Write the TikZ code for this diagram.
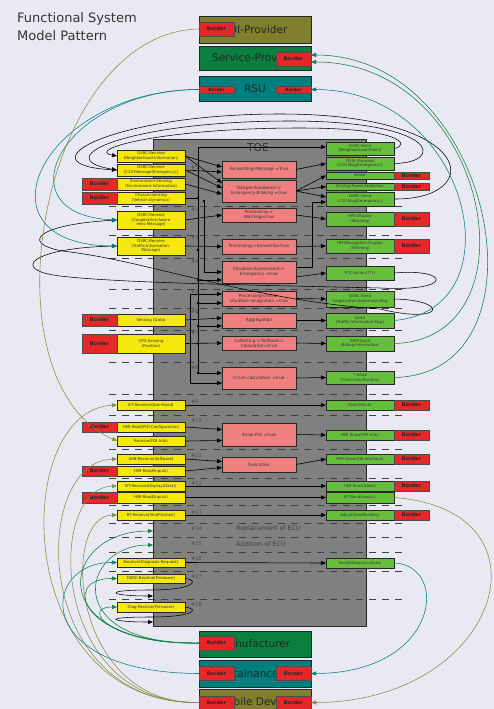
\documentclass[tikz,border=0pt]{standalone}
\usepackage{fontspec}
\setmainfont{DejaVu Sans}
\usetikzlibrary{arrows.meta}
\definecolor{bgc}{HTML}{E9E9F3}
\definecolor{yel}{HTML}{F4E80C}
\definecolor{pnk}{HTML}{F08080}
\definecolor{grn}{HTML}{66BF3C}
\definecolor{redb}{HTML}{E42728}
\definecolor{olv}{HTML}{7F7F2E}
\definecolor{olvl}{HTML}{8A8A40}
\definecolor{dgrn}{HTML}{0B7F3D}
\definecolor{tea}{HTML}{007F7F}
\definecolor{toe}{HTML}{808080}
\newcommand{\mkY}[4]{\node[ybox,minimum height=#3] (#1) at (151,#2) {#4};}
\newcommand{\mkP}[4]{\node[pbox,minimum height=#3] (#1) at (259,#2) {#4};}
\newcommand{\mkG}[4]{\node[gbox,minimum height=#3] (#1) at (360,#2) {#4};}
\newcommand{\mkBL}[3]{\node[bord,minimum height=#3] (#1) at (99.5,#2) {Border};}
\newcommand{\mkBR}[3]{\node[bord,minimum height=#3] (#1) at (411.5,#2) {Border};}
\newcommand{\mkN}[2]{\node[numlab] at (191,#1) {\##2};}
\begin{document}
\begin{tikzpicture}[x=1pt,y=-1pt,
  bx/.style={draw=black!85, line width=0.6pt, inner sep=0pt, outer sep=0pt, align=center, font=\fontsize{3.9}{4.6}\selectfont, text=black!80},
  ybox/.style={bx, fill=yel, minimum width=68},
  pbox/.style={bx, fill=pnk, minimum width=74, font=\fontsize{4.3}{5.2}\selectfont},
  gbox/.style={bx, fill=grn, minimum width=68},
  bord/.style={draw=black!70, fill=redb, line width=0.5pt, inner sep=0pt, outer sep=0pt, minimum width=35, font=\bfseries\fontsize{5}{6}\selectfont, text=black!85},
  sbord/.style={bord, font=\bfseries\fontsize{4.3}{5}\selectfont},
  bigbox/.style={draw=black!85, line width=0.8pt, minimum width=112, inner sep=0pt, outer sep=0pt, font=\fontsize{10.5}{12}\selectfont, text=black!85},
  arr/.style={-{Triangle[length=5pt,width=4pt]}, line width=0.6pt},
  crv/.style={-{Triangle[length=5pt,width=4pt]}, line width=0.55pt},
  dsh/.style={dash pattern=on 7pt off 6pt, line width=0.9pt, black!75},
  numlab/.style={anchor=west, font=\fontsize{5}{6}\selectfont, text=black!70, inner sep=0pt},
  dot/.style={fill=black}
]
\fill[bgc] (0,0) rectangle (494,709);
\useasboundingbox (0,0) rectangle (494,709);

% title
\node[anchor=north west, align=left, inner sep=0pt, font=\fontsize{13}{18}\selectfont, text=black!80] (title) at (17,12) {Functional System\\Model Pattern};

% TOE
\fill[toe] (153,139) rectangle (366,626);
\draw[black!85, line width=0.8pt] (153,139) rectangle (366,626);
\node[font=\fontsize{10.8}{12}\selectfont, text=black!80] (toelab) at (258,148) {TOE};

% dashed separators
\foreach \yy in {206,235,258,289,308,330,362,394,415,449,478,505,523,537,552,571,599}
  \draw[dsh] (109,\yy) -- (406,\yy);

% numbers
\mkN{168}{1} \mkN{210}{2} \mkN{238}{3} \mkN{262}{4} \mkN{292}{5} \mkN{312}{6}
\mkN{333}{7} \mkN{368}{8} \mkN{402}{9} \mkN{421}{10} \mkN{456}{11} \mkN{484}{12}
\mkN{513}{13} \mkN{529}{14} \mkN{544}{15} \mkN{559}{16} \mkN{577}{17} \mkN{605}{18}
\node[anchor=west, inner sep=0pt, font=\fontsize{6.3}{7}\selectfont, text=black!75] (repl) at (236,529) {Replacement of ECU};
\node[anchor=west, inner sep=0pt, font=\fontsize{6.3}{7}\selectfont, text=black!75] (addi) at (236,544) {Addition of ECU};

% top external boxes
\node[bigbox, fill=olv, minimum height=27] (poi) at (255,29.5) {POI-Provider};
\node[bord, minimum height=14] (poiB) at (216.5,29) {Border};
\node[bigbox, fill=dgrn, minimum height=24] (sp) at (255,58) {Service-Provider};
\node[bord, minimum height=14] (spB) at (293.5,59) {Border};
\node[bigbox, fill=tea, minimum height=25] (rsu) at (255,88.5) {RSU};
\node[sbord, minimum height=7] (rsuL) at (216.5,89.5) {Border};
\node[sbord, minimum height=7] (rsuR) at (293.5,89.5) {Border};

% bottom external boxes
\node[bigbox, fill=dgrn, minimum height=26] (mf) at (255,644) {Manufacturer};
\node[bord, minimum height=14] (mfB) at (216.5,643) {Border};
\node[bigbox, fill=tea, minimum height=27] (mt) at (255,673.5) {Maintainance-Tool};
\node[bord, minimum height=14] (mtL) at (216.5,673.5) {Border};
\node[bord, minimum height=14] (mtR) at (293.5,673.5) {Border};
\node[bigbox, fill=olv, minimum height=26] (mb) at (255,702) {Mobile Device};
\node[bord, minimum height=13] (mbL) at (216.5,702.5) {Border};
\node[bord, minimum height=13] (mbR) at (293.5,702.5) {Border};

% yellow inputs
\mkY{y1}{156}{12}{DSRC-Receive\\(Neighborhood-Information)}
\mkY{y2}{170}{12}{DSRC-Receive\\(C2X-Message(Emergency))}
\mkY{y3}{184}{12}{Environment-Sensing\\(Environment-Information)}
\mkY{y4}{198}{12}{Chassis-Sensing\\(Vehicle-Dynamics)}
\mkY{y5}{220}{18}{DSRC-Receive\\(Cooperative-Aware\\ness-Message)}
\mkY{y6}{246}{18}{DSRC-Receive\\(Traffic-Information-\\Message)}
\mkY{y7}{320}{12}{Sensing (Data)}
\mkY{y8}{343.5}{19}{GPS-Sensing\\(Position)}
\mkY{y9}{405}{10}{BT-Receive(OpenHood)}
\mkY{y10}{427}{10}{HMI-Read(POI-Configuration)}
\mkY{y11}{441}{10}{Receive(POI-Info)}
\mkY{y12}{459}{10}{USB-Receive(Software)}
\mkY{y13}{471}{10}{HIM-Read(Inputs)}
\mkY{y14}{486}{10}{BT-Receive(Display(Data))}
\mkY{y15}{497.5}{11}{HIM-Read(Inputs)}
\mkY{y16}{515}{10}{BT-Receive(SeatPosition)}
\mkY{y17}{562.5}{9}{Receive(Diagnosis-Request)}
\mkY{y18}{578.5}{9}{DSRC-Receive(Firmware)}
\mkY{y19}{607}{10}{Diag-Receive(Firmware)}
\mkBL{b3}{184}{12} \mkBL{b4}{198}{12} \mkBL{b7}{320}{12} \mkBL{b8}{343.5}{19}
\mkBL{b10}{427}{10} \mkBL{b13}{471}{10} \mkBL{b15}{497.5}{11}

% pink functions
\mkP{p1}{169.5}{17}{Forwarding-Message =True}
\mkP{p2}{191}{22}{Danger-Avoidance->\\Emergency-Braking =true}
\mkP{p3}{215}{14}{Processing->\\Warning=true}
\mkP{p4}{246.5}{15}{Processing->ShowInfo=true}
\mkP{p5}{272}{22}{Situation-Assessment->\\Emergency =true}
\mkP{p6}{298.5}{15}{Processing-critical-\\situation-recognition =true}
\mkP{p7}{320.5}{15}{Aggregation}
\mkP{p8}{343}{14}{Collecting->TollRoad->\\Calculation=true}
\mkP{p9}{378}{22}{Crash-calculation =true}
\mkP{ps}{434.5}{23}{Show-POI =true}
\mkP{pe}{464.5}{15}{Execution}

% green outputs
\mkG{g1}{148.5}{13}{DSRC-Send\\(Neighborhood-Token)}
\mkG{g2}{163.5}{13}{DSRC-Forward\\(C2X-Msg(Emergency))}
\mkG{g3}{175.5}{7}{Brake}
\mkG{g4}{186.5}{7}{Driving-Power-Reduction}
\mkG{g5}{199}{14}{DSRC-Send\\(C2X-Msg(Emergency))}
\mkG{g6}{219}{14}{HMI-Display\\(Warning)}
\mkG{g7}{246}{14}{HMI/Navigation-Display\\(Warning)}
\mkG{g8}{273}{14}{PTC-Action(???)}
\mkG{g9}{299}{16}{DSRC-Send\\Cooperative-Awareness-Msg}
\mkG{g10}{320.5}{15}{Send\\(Traffic-Information-Msg)}
\mkG{g11}{343.5}{15}{GSM-Send\\(Billing-Information)}
\mkG{g12}{377.5}{13}{?-Send\\(Crash-Info,Position)}
\mkG{g13}{405}{10}{Open(Hood)}
\mkG{g14}{435}{10}{HMI-Show(POI-Info)}
\mkG{g15}{459}{10}{HIM-Show(SW-Interface)}
\mkG{g16}{486}{10}{HIM-Show(Data)}
\mkG{g17}{497.5}{11}{BT-Send(Inputs)}
\mkG{g18}{515}{10}{Adjust(SeatPosition)}
\mkG{g19}{563}{10}{Send(Diagnosis-Data)}
\mkBR{r3}{175.5}{7} \mkBR{r4}{186.5}{7} \mkBR{r6}{219}{14} \mkBR{r7}{246}{14}
\mkBR{r13}{405}{10} \mkBR{r14}{435}{10} \mkBR{r15}{459}{10} \mkBR{r16}{486}{10} \mkBR{r18}{515}{10}

% bus coordinates
\coordinate (bt) at (198,147);
\coordinate (bb) at (198,373);
\coordinate (ct) at (204,201);
\coordinate (cb) at (204,272);
\coordinate (dt) at (190,294);
\coordinate (db) at (190,383);
\coordinate (t14) at (153,531);
\coordinate (t15) at (153,545);
\coordinate (t17) at (153,596);
\coordinate (t18) at (153,622);

% internal connectors
\draw[line width=0.6pt] (bt) -- (bb);
\draw[line width=0.6pt] (ct) -- (cb);
\draw[line width=0.6pt] (dt) -- (db);
\draw[arr] (bt) -- (bt -| g1.west);
\draw[arr] (bb) -- (bb -| p9.west);
\draw[arr] (cb) -- (cb -| p5.west);
\draw[arr] (dt) -- (dt -| p6.west);
\draw[arr] (db) -- (db -| p9.west);
\draw[line width=0.6pt] (y4.east) -- (y4.east -| bt);
\fill[dot] (y4.east -| bt) circle (1.3);
\fill[dot] (ct) circle (1.3);
\fill[dot] (198,250) circle (1.3);
\draw[arr] (198,280) -- ([yshift=-8]p5.west);
\fill[dot] (198,280) circle (1.3);
\draw[arr] (198,303) -- ([yshift=-4.5]p6.west);
\fill[dot] (198,303) circle (1.3);
\draw[arr] (198,326) -- ([yshift=-5.5]p7.west);
\fill[dot] (198,326) circle (1.3);
\fill[dot] (198,343.5) circle (1.3);
\fill[dot] (198,373) circle (1.3);

\draw[arr] (y1.east) -- ([yshift=2.5]p1.west);
\draw[arr] (y1.east) -- ([yshift=8]p2.west);
\draw[arr] (y2.east) -- ([yshift=-2.5]p1.west);
\draw[arr] (y2.east) -- ([yshift=3]p2.west);
\draw[arr] (y3.east) -- ([yshift=-3]p2.west);
\draw[arr] (y5.east) -- (p3.west);
\draw[arr] (y6.east) -- (p4.west);
\draw[arr] (y7.east) -- ([yshift=2.5]p7.west);
\draw[arr] (y8.east) -- (p8.west);
\draw[arr] (p1.east) -- (g2.west);
\draw[arr] (p2.east) -- (g3.west);
\draw[arr] (p2.east) -- (g4.west);
\draw[arr] (p2.east) -- ([yshift=2]g5.west);
\draw[arr] (p3.east) -- (g6.west);
\draw[arr] (p4.east) -- (g7.west);
\draw[arr] ([yshift=5]p5.east) -| ([xshift=-14,yshift=-3]g5.west) -- ([yshift=-3]g5.west);
\draw[arr] ([yshift=-5]p5.east) -- (g8.west);
\draw[arr] (p6.east) -- (g9.west);
\draw[arr] (p7.east) -- (g10.west);
\draw[arr] (p8.east) -- (g11.west);
\draw[arr] (p9.east) -- (g12.west);

\draw[arr] (y9.east) -- (g13.west);
\draw[arr] (y10.east) -- ([yshift=5]ps.west);
\draw[arr] (y11.east) -- ([yshift=-6]ps.west);
\draw[arr] (ps.east) -- (g14.west);
\draw[arr] (y12.east) -- ([yshift=3]pe.west);
\draw[arr] (y13.east) -- ([yshift=-3]pe.west);
\draw[arr] (pe.east) -- (g15.west);
\draw[arr] (y14.east) -- (g16.west);
\draw[arr] (y15.east) -- (g17.west);
\draw[arr] (y16.east) -- (g18.west);
\draw[arr] (y17.east) -- (g19.west);

% black loops at top
\draw[crv] (g5.east) .. controls (485,200) and (480,114) .. (280,114) .. controls (110,114) and (20,165) .. (y2.west);
\draw[crv] (g2.east) .. controls (445,163) and (440,121) .. (290,121) .. controls (130,121) and (45,158) .. (y2.west);
\draw[crv] (g1.east) .. controls (410,146) and (405,128) .. (300,128) .. controls (160,128) and (85,150) .. (y1.west);

% black loops in the middle
\draw[crv] (g8.east) .. controls (450,268) and (455,292) .. (380,288) .. controls (250,285) and (120,283) .. (60,276) .. controls (10,270) and (30,248) .. (y6.west);
\draw[crv] (g9.east) .. controls (450,300) and (445,325) .. (380,309) .. controls (250,300) and (150,262) .. (70,252) .. controls (20,246) and (30,225) .. (y5.west);

% teal RSU
\draw[crv, tea] (rsuL.west) .. controls (60,90) and (0,215) .. (y5.west);
\draw[crv, tea] (rsuL.west) .. controls (40,90) and (-30,245) .. (y6.west);
\draw[crv, tea] (g10.east) .. controls (520,310) and (470,90) .. (rsuR.east);

% green service provider
\draw[crv, dgrn] (g11.east) .. controls (540,340) and (490,62) .. ([yshift=-3]spB.east);
\draw[crv, dgrn] (g12.east) .. controls (555,375) and (495,55) .. ([yshift=4]spB.east);

% olive
\draw[crv, olvl] (poiB.west) .. controls (40,32) and (-20,380) .. (y11.west);
\draw[crv, olvl] (mbL.west) .. controls (10,705) and (10,410) .. (y9.west);
\draw[crv, olvl] (mbL.west) .. controls (30,705) and (30,462) .. (y12.west);
\draw[crv, olvl] (mbL.west) .. controls (50,705) and (45,488) .. (y14.west);
\draw[crv, olvl] (mbL.west) .. controls (70,705) and (60,516) .. (y16.west);
\draw[crv, olvl] (g17.east) .. controls (560,510) and (500,702) .. (mbR.east);

% manufacturer
\draw[crv, dgrn] (mfB.west) .. controls (40,645) and (60,531) .. (t14);
\draw[crv, dgrn] (mfB.west) .. controls (60,645) and (80,545) .. (t15);
\draw[crv, dgrn] (mfB.west) .. controls (80,645) and (60,578) .. (y18.west);
\draw[crv, dgrn] (mfB.west) .. controls (110,645) and (80,607) .. (y19.west);

% maintenance
\draw[crv, tea] (mtL.west) .. controls (30,673) and (40,562) .. (y17.west);
\draw[crv, tea] (g19.east) .. controls (450,565) and (440,673) .. (mtR.east);

% firmware loops
\draw[crv] (y18.east) .. controls (200,580) and (195,590) .. (150,590) .. controls (100,590) and (110,596) .. (t17);
\draw[crv] (y19.east) .. controls (200,609) and (195,617) .. (150,617) .. controls (100,617) and (110,622) .. (t18);
\end{tikzpicture}
\end{document}
